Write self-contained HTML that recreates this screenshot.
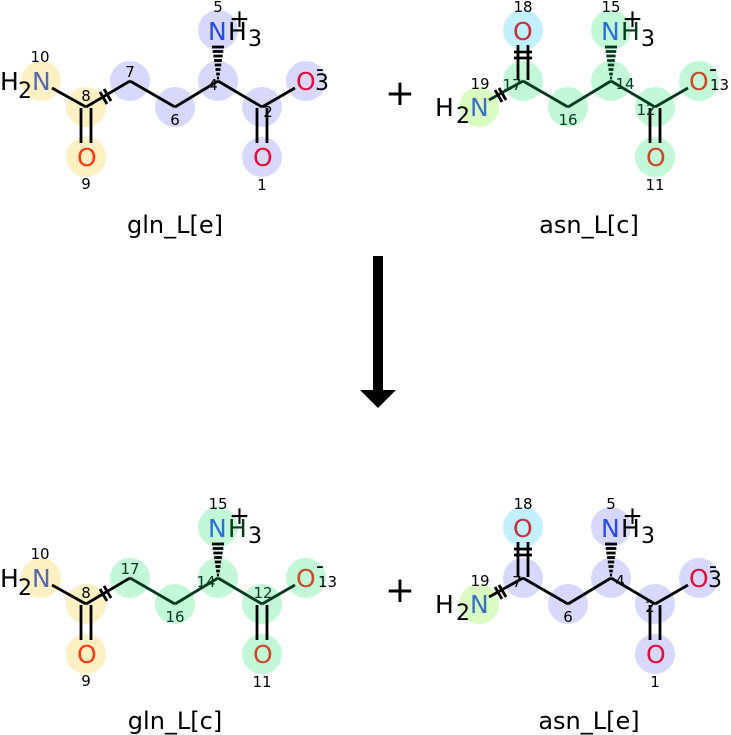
<!DOCTYPE html>
<html><head><meta charset="utf-8">
<style>
html,body{margin:0;padding:0;background:#fff;}
svg{display:block;}
svg text{font-family:"DejaVu Sans","Liberation Sans",sans-serif;}
svg text.a{font-size:25px !important;}
svg text.n{font-size:15px !important;}
svg text.s{font-size:22px !important;}
svg text.t{font-size:24px !important;}
</style></head><body>
<svg width="731" height="735" viewBox="0 0 731 735" xmlns="http://www.w3.org/2000/svg" font-family="DejaVu Sans, sans-serif">
<defs>
<g id="hash">
<line x1="-6" y1="47" x2="6" y2="47"/><line x1="-5.3" y1="51.5" x2="5.3" y2="51.5"/>
<line x1="-4.6" y1="56" x2="4.6" y2="56"/><line x1="-3.9" y1="60.5" x2="3.9" y2="60.5"/>
<line x1="-3.2" y1="65" x2="3.2" y2="65"/><line x1="-2.5" y1="69.5" x2="2.5" y2="69.5"/>
<line x1="-1.8" y1="74" x2="1.8" y2="74"/><line x1="-1.1" y1="78" x2="1.1" y2="78"/>
</g>
</defs>

<g>
<circle cx="41" cy="81" r="20" fill="#fdf0c2"/>
<circle cx="86" cy="107" r="20" fill="#fdf0c2"/>
<circle cx="86" cy="157" r="20" fill="#fdf0c2"/>
<circle cx="130" cy="81" r="20" fill="#d8d8fc"/>
<circle cx="175" cy="107" r="20" fill="#d8d8fc"/>
<circle cx="218" cy="81" r="20" fill="#d8d8fc"/>
<circle cx="218" cy="30" r="20" fill="#d8d8fc"/>
<circle cx="262" cy="107" r="20" fill="#d8d8fc"/>
<circle cx="262" cy="157" r="20" fill="#d8d8fc"/>
<circle cx="306" cy="81" r="20" fill="#d8d8fc"/>
<g stroke="#000" stroke-width="2.8" fill="none">
<line x1="52" y1="88" x2="86" y2="107"/>
<line x1="86" y1="107" x2="130" y2="81"/>
<line x1="130" y1="81" x2="175" y2="107"/>
<line x1="175" y1="107" x2="218" y2="81"/>
<line x1="218" y1="81" x2="262" y2="107"/>
<line x1="262" y1="107" x2="295" y2="88"/>
<line x1="81" y1="108" x2="81" y2="143"/><line x1="91" y1="108" x2="91" y2="143"/>
<line x1="257" y1="108" x2="257" y2="143"/><line x1="267" y1="108" x2="267" y2="143"/>
<line x1="100" y1="92" x2="107" y2="104"/><line x1="104" y1="89" x2="111" y2="101"/>
<use href="#hash" x="218" y="0"/>
</g>
<text class="a" font-size="25" x="0" y="90" fill="#000">H</text><text class="s" font-size="22" x="18" y="98" fill="#000">2</text>
<text class="a" font-size="25" x="32" y="90" fill="#5868b0">N</text>
<text class="a" font-size="25" x="77" y="166" fill="#ff3a10">O</text>
<text class="a" font-size="25" x="253" y="166" fill="#e0103a">O</text>
<text class="a" font-size="25" x="296" y="90" fill="#e0103a">O</text>
<text class="s" font-size="22" x="315" y="90" fill="#000">3</text>
<text class="s" font-size="22" x="316" y="76" fill="#000">-</text>
<text class="a" font-size="25" x="208" y="40" fill="#2848f0">N</text>
<text class="a" font-size="25" x="228" y="40" fill="#000">H</text><text class="s" font-size="22" x="248" y="46" fill="#000">3</text>
<text class="a" font-size="25" x="229" y="27" fill="#000">+</text>
<text class="n" font-size="15" x="40" y="62" text-anchor="middle">10</text>
<text class="n" font-size="15" x="86" y="101" text-anchor="middle">8</text>
<text class="n" font-size="15" x="86" y="189" text-anchor="middle">9</text>
<text class="n" font-size="15" x="130" y="77" text-anchor="middle">7</text>
<text class="n" font-size="15" x="175" y="125" text-anchor="middle">6</text>
<text class="n" font-size="15" x="213" y="90" text-anchor="middle">4</text>
<text class="n" font-size="15" x="218" y="12" text-anchor="middle">5</text>
<text class="n" font-size="15" x="268" y="117" text-anchor="middle">2</text>
<text class="n" font-size="15" x="262" y="190" text-anchor="middle">1</text>
</g>

<g transform="translate(0,497)">
<circle cx="41" cy="81" r="20" fill="#fdf0c2"/>
<circle cx="86" cy="107" r="20" fill="#fdf0c2"/>
<circle cx="86" cy="157" r="20" fill="#fdf0c2"/>
<circle cx="130" cy="81" r="20" fill="#c2f8d8"/>
<circle cx="175" cy="107" r="20" fill="#c2f8d8"/>
<circle cx="218" cy="81" r="20" fill="#c2f8d8"/>
<circle cx="218" cy="30" r="20" fill="#c2f8d8"/>
<circle cx="262" cy="107" r="20" fill="#c2f8d8"/>
<circle cx="262" cy="157" r="20" fill="#c2f8d8"/>
<circle cx="306" cy="81" r="20" fill="#c2f8d8"/>
<g stroke="#000" stroke-width="2.8" fill="none">
<line x1="52" y1="88" x2="86" y2="107"/>
<line x1="86" y1="107" x2="130" y2="81"/>
<line x1="130" y1="81" x2="175" y2="107" stroke="#063a20"/>
<line x1="175" y1="107" x2="218" y2="81" stroke="#063a20"/>
<line x1="218" y1="81" x2="262" y2="107" stroke="#063a20"/>
<line x1="262" y1="107" x2="295" y2="88" stroke="#063a20"/>
<line x1="81" y1="108" x2="81" y2="143"/><line x1="91" y1="108" x2="91" y2="143"/>
<line x1="257" y1="108" x2="257" y2="143"/><line x1="267" y1="108" x2="267" y2="143"/>
<line x1="100" y1="92" x2="107" y2="104"/><line x1="104" y1="89" x2="111" y2="101"/>
<use href="#hash" x="218" y="0"/>
</g>
<text class="a" font-size="25" x="0" y="90" fill="#000">H</text><text class="s" font-size="22" x="18" y="98" fill="#000">2</text>
<text class="a" font-size="25" x="32" y="90" fill="#5868b0">N</text>
<text class="a" font-size="25" x="77" y="166" fill="#ff3a10">O</text>
<text class="a" font-size="25" x="253" y="166" fill="#c84a28">O</text>
<text class="a" font-size="25" x="296" y="90" fill="#c84a28">O</text>
<text class="n" font-size="15" x="318" y="90" fill="#000">13</text>
<text class="s" font-size="22" x="316" y="76" fill="#000">-</text>
<text class="a" font-size="25" x="208" y="40" fill="#2a70d8">N</text>
<text class="a" font-size="25" x="228" y="40" fill="#063a20">H</text><text class="s" font-size="22" x="248" y="46" fill="#000">3</text>
<text class="a" font-size="25" x="229" y="27" fill="#000">+</text>
<text class="n" font-size="15" x="40" y="62" text-anchor="middle">10</text>
<text class="n" font-size="15" x="86" y="101" text-anchor="middle">8</text>
<text class="n" font-size="15" x="86" y="189" text-anchor="middle">9</text>
<text class="n" font-size="15" x="130" y="77" text-anchor="middle" fill="#063a20">17</text>
<text class="n" font-size="15" x="175" y="125" text-anchor="middle" fill="#063a20">16</text>
<text class="n" font-size="15" x="206" y="90" text-anchor="middle" fill="#063a20">14</text>
<text class="n" font-size="15" x="218" y="12" text-anchor="middle">15</text>
<text class="n" font-size="15" x="263" y="101" text-anchor="middle" fill="#063a20">12</text>
<text class="n" font-size="15" x="262" y="190" text-anchor="middle">11</text>
</g>

<g>
<circle cx="523" cy="30" r="20" fill="#c2f0fc"/>
<circle cx="523" cy="81" r="20" fill="#c2f8d8"/>
<circle cx="479" cy="107" r="20" fill="#dafcc2"/>
<circle cx="568" cy="107" r="20" fill="#c2f8d8"/>
<circle cx="611" cy="81" r="20" fill="#c2f8d8"/>
<circle cx="611" cy="30" r="20" fill="#c2f8d8"/>
<circle cx="655" cy="107" r="20" fill="#c2f8d8"/>
<circle cx="655" cy="157" r="20" fill="#c2f8d8"/>
<circle cx="699" cy="81" r="20" fill="#c2f8d8"/>
<g stroke="#063a20" stroke-width="2.8" fill="none">
<line x1="489" y1="100" x2="523" y2="81"/>
<line x1="523" y1="81" x2="568" y2="107"/>
<line x1="568" y1="107" x2="611" y2="81"/>
<line x1="611" y1="81" x2="655" y2="107"/>
<line x1="655" y1="107" x2="688" y2="88"/>
<line x1="518" y1="45" x2="518" y2="80" stroke="#000"/><line x1="528" y1="45" x2="528" y2="80" stroke="#000"/>
<line x1="514" y1="52" x2="532" y2="52" stroke="#000"/><line x1="514" y1="58" x2="532" y2="58" stroke="#000"/>
<line x1="650" y1="108" x2="650" y2="143" stroke="#000"/><line x1="660" y1="108" x2="660" y2="143" stroke="#000"/>
<line x1="495" y1="90" x2="502" y2="102" stroke="#000"/><line x1="499" y1="88" x2="506" y2="100" stroke="#000"/>
<use href="#hash" x="611" y="0"/>
</g>
<text class="a" font-size="25" x="435" y="116" fill="#000">H</text><text class="s" font-size="22" x="456" y="123" fill="#000">2</text>
<text class="a" font-size="25" x="470" y="116" fill="#3a70c0">N</text>
<text class="a" font-size="25" x="513" y="40" fill="#c83040">O</text>
<text class="a" font-size="25" x="646" y="166" fill="#c84a28">O</text>
<text class="a" font-size="25" x="689" y="90" fill="#c84a28">O</text>
<text class="n" font-size="15" x="710" y="90" fill="#000">13</text>
<text class="s" font-size="22" x="709" y="76" fill="#000">-</text>
<text class="a" font-size="25" x="601" y="40" fill="#2a70d8">N</text>
<text class="a" font-size="25" x="621" y="40" fill="#063a20">H</text><text class="s" font-size="22" x="641" y="46" fill="#000">3</text>
<text class="a" font-size="25" x="622" y="27" fill="#000">+</text>
<text class="n" font-size="15" x="523" y="12" text-anchor="middle">18</text>
<text class="n" font-size="15" x="512" y="90" text-anchor="middle" fill="#063a20">17</text>
<text class="n" font-size="15" x="480" y="89" text-anchor="middle">19</text>
<text class="n" font-size="15" x="568" y="125" text-anchor="middle" fill="#063a20">16</text>
<text class="n" font-size="15" x="625" y="89" text-anchor="middle" fill="#063a20">14</text>
<text class="n" font-size="15" x="611" y="12" text-anchor="middle">15</text>
<text class="n" font-size="15" x="646" y="115" text-anchor="middle" fill="#063a20">12</text>
<text class="n" font-size="15" x="655" y="190" text-anchor="middle">11</text>
</g>

<g transform="translate(0,497)">
<circle cx="523" cy="30" r="20" fill="#c2f0fc"/>
<circle cx="523" cy="81" r="20" fill="#d8d8fc"/>
<circle cx="479" cy="107" r="20" fill="#dafcc2"/>
<circle cx="568" cy="107" r="20" fill="#d8d8fc"/>
<circle cx="611" cy="81" r="20" fill="#d8d8fc"/>
<circle cx="611" cy="30" r="20" fill="#d8d8fc"/>
<circle cx="655" cy="107" r="20" fill="#d8d8fc"/>
<circle cx="655" cy="157" r="20" fill="#d8d8fc"/>
<circle cx="699" cy="81" r="20" fill="#d8d8fc"/>
<g stroke="#000" stroke-width="2.8" fill="none">
<line x1="489" y1="100" x2="523" y2="81"/>
<line x1="523" y1="81" x2="568" y2="107"/>
<line x1="568" y1="107" x2="611" y2="81"/>
<line x1="611" y1="81" x2="655" y2="107"/>
<line x1="655" y1="107" x2="688" y2="88"/>
<line x1="518" y1="45" x2="518" y2="80"/><line x1="528" y1="45" x2="528" y2="80"/>
<line x1="514" y1="52" x2="532" y2="52"/><line x1="514" y1="58" x2="532" y2="58"/>
<line x1="650" y1="108" x2="650" y2="143"/><line x1="660" y1="108" x2="660" y2="143"/>
<line x1="495" y1="90" x2="502" y2="102"/><line x1="499" y1="88" x2="506" y2="100"/>
<use href="#hash" x="611" y="0"/>
</g>
<text class="a" font-size="25" x="435" y="116" fill="#000">H</text><text class="s" font-size="22" x="456" y="123" fill="#000">2</text>
<text class="a" font-size="25" x="470" y="116" fill="#3a70c0">N</text>
<text class="a" font-size="25" x="513" y="40" fill="#c83040">O</text>
<text class="a" font-size="25" x="646" y="166" fill="#e0103a">O</text>
<text class="a" font-size="25" x="689" y="90" fill="#e0103a">O</text>
<text class="s" font-size="22" x="708" y="90" fill="#000">3</text>
<text class="s" font-size="22" x="709" y="76" fill="#000">-</text>
<text class="a" font-size="25" x="601" y="40" fill="#2848f0">N</text>
<text class="a" font-size="25" x="621" y="40" fill="#000">H</text><text class="s" font-size="22" x="641" y="46" fill="#000">3</text>
<text class="a" font-size="25" x="622" y="27" fill="#000">+</text>
<text class="n" font-size="15" x="523" y="12" text-anchor="middle">18</text>
<text class="n" font-size="15" x="517" y="90" text-anchor="middle">7</text>
<text class="n" font-size="15" x="480" y="89" text-anchor="middle">19</text>
<text class="n" font-size="15" x="568" y="125" text-anchor="middle">6</text>
<text class="n" font-size="15" x="620" y="89" text-anchor="middle">4</text>
<text class="n" font-size="15" x="611" y="12" text-anchor="middle">5</text>
<text class="n" font-size="15" x="650" y="115" text-anchor="middle">2</text>
<text class="n" font-size="15" x="655" y="190" text-anchor="middle">1</text>
</g>

<text x="400" y="105" font-size="36" text-anchor="middle" fill="#000">+</text>
<text x="400" y="602" font-size="36" text-anchor="middle" fill="#000">+</text>

<rect x="373" y="256" width="10" height="136" fill="#000"/>
<polygon points="360,390 396,390 378,408" fill="#000"/>

<text class="t" font-size="24" x="175" y="233" text-anchor="middle">gln_L[e]</text>
<text class="t" font-size="24" x="589" y="233" text-anchor="middle">asn_L[c]</text>
<text class="t" font-size="24" x="175" y="729" text-anchor="middle">gln_L[c]</text>
<text class="t" font-size="24" x="589" y="729" text-anchor="middle">asn_L[e]</text>
</svg>
</body></html>
